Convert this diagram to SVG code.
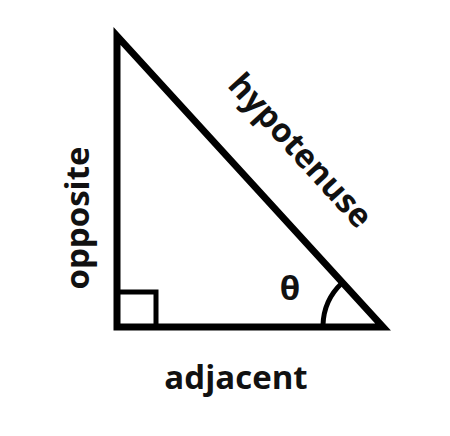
<svg xmlns="http://www.w3.org/2000/svg" width="450" height="436" viewBox="0 0 450 436">
<style>
.edge{fill:none;stroke:#000;stroke-width:7;stroke-linejoin:miter;stroke-miterlimit:10}
.thin{fill:none;stroke:#000;stroke-width:5}
.lbl{font-family:"Open Sans","Liberation Sans",sans-serif;font-weight:bold;font-size:33px;fill:#111}
</style>
<rect width="450" height="436" fill="#fff"/>
<g id="connectors">
<polygon class="edge" points="117,36 117,327 383,327"/>
</g>
<g id="right-angle"><polyline class="thin" points="119,292 156,292 156,325"/></g>
<g id="angle-arc"><path class="thin" d="M323,325 A60,60 0 0 1 342,283"/></g>
<g id="theta"><text class="lbl" x="290" y="300" text-anchor="middle" font-size="25">θ</text></g>
<g id="adjacent"><text class="lbl" x="236" y="389" text-anchor="middle">adjacent</text></g>
<g id="opposite"><text class="lbl" transform="translate(89,218) rotate(-90)" text-anchor="middle">opposite</text></g>
<g id="hypotenuse"><text class="lbl" transform="translate(292,158) rotate(47.7)" text-anchor="middle">hypotenuse</text></g>
</svg>
